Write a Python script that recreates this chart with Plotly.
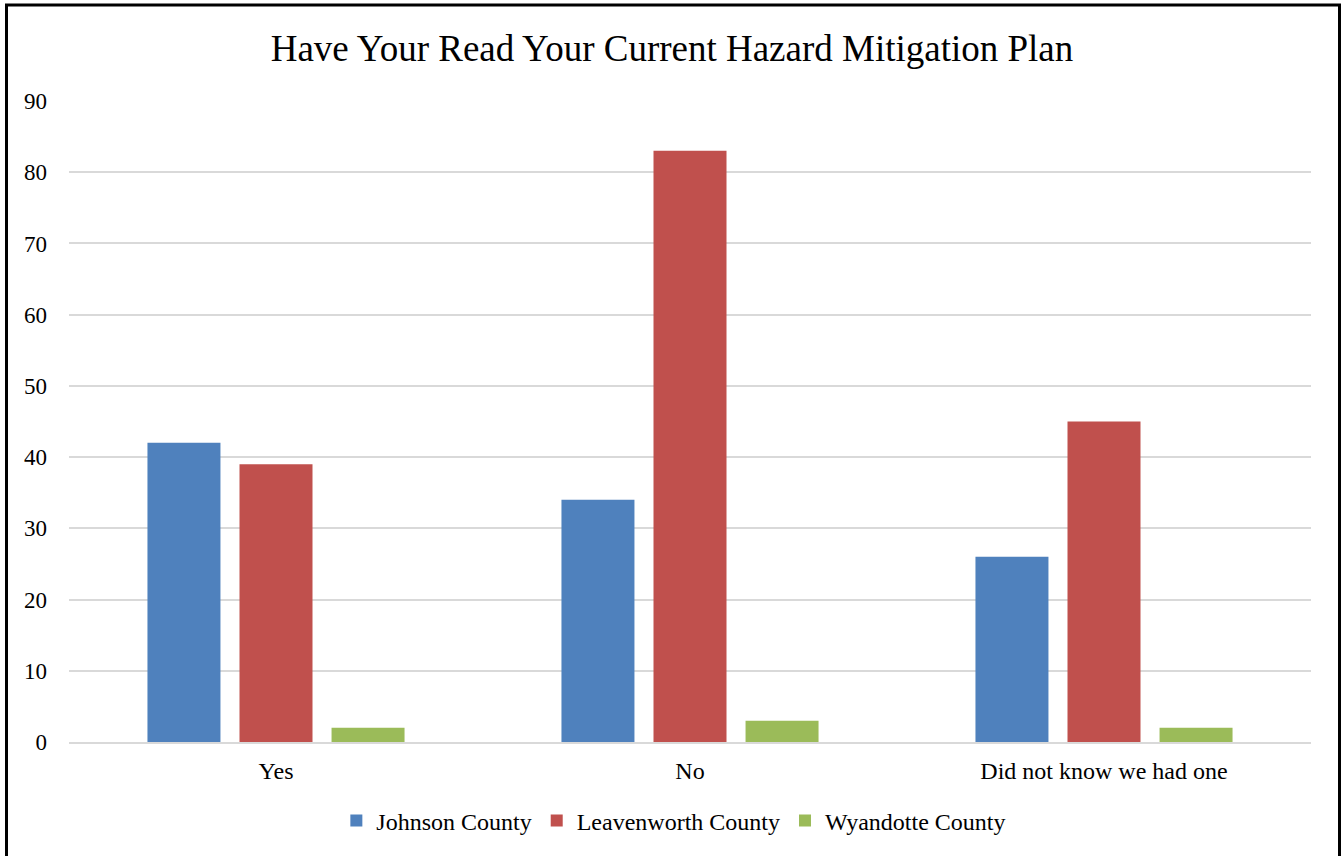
import plotly.graph_objects as go

categories = ["Yes", "No", "Did not know we had one"]
johnson = [42, 34, 26]
leavenworth = [39, 83, 45]
wyandotte = [2, 3, 2]
series_names = ["Johnson County", "Leavenworth County", "Wyandotte County"]
colors = ["#4F81BD", "#C0504D", "#9BBB59"]
y_ticks = [0, 10, 20, 30, 40, 50, 60, 70, 80, 90]

FONT = "Liberation Serif, Times New Roman, serif"

fig = go.Figure()
for name, vals, col in zip(series_names, [johnson, leavenworth, wyandotte], colors):
    fig.add_trace(go.Bar(x=categories, y=vals, name=name, marker_color=col,
                         marker_line_width=0))

W, H = 1344, 856
L, R, T, B = 69, 33, 101, 114
ph = H - T - B
pw = W - L - R

def px_to_paper_x(px):
    return (px - L) / pw

def px_to_paper_y(py):
    return (H - B - py) / ph

fig.update_layout(
    width=W, height=H,
    margin=dict(l=L, r=R, t=T, b=B),
    paper_bgcolor="white", plot_bgcolor="white",
    font=dict(family=FONT, color="black", size=24),
    title=dict(text="Have Your Read Your Current Hazard Mitigation Plan",
               x=0.5, xanchor="center", y=1 - 48 / H, yanchor="middle",
               yref="container", font=dict(size=37, family=FONT, color="black")),
    barmode="group", bargap=0.333, bargroupgap=0.207,
    legend=dict(orientation="h", x=0.487, xanchor="center",
                y=px_to_paper_y(821), yanchor="middle",
                font=dict(size=24, family=FONT, color="black"),
                itemwidth=30, bgcolor="rgba(0,0,0,0)"),
    showlegend=True,
)
fig.update_yaxes(range=[0, 90], tickvals=y_ticks, showgrid=True,
                 gridcolor="#D9D9D9", gridwidth=1.8, zeroline=False,
                 showline=False, ticks="", ticklabelstandoff=21,
                 tickfont=dict(size=23, family=FONT, color="black"))
fig.update_xaxes(showline=True, linecolor="#D9D9D9", linewidth=1.8,
                 ticks="", ticklabelstandoff=6,
                 tickfont=dict(size=24, family=FONT, color="black"))

fig.add_shape(type="rect", xref="paper", yref="paper",
              x0=px_to_paper_x(6.5), x1=px_to_paper_x(1339.5),
              y0=px_to_paper_y(870), y1=px_to_paper_y(5),
              line=dict(color="black", width=3), fillcolor="rgba(0,0,0,0)",
              layer="above")

fig.write_html("out.html", config={"displayModeBar": False},
               post_script="document.body.style.margin='0';document.body.style.overflow='hidden';")
